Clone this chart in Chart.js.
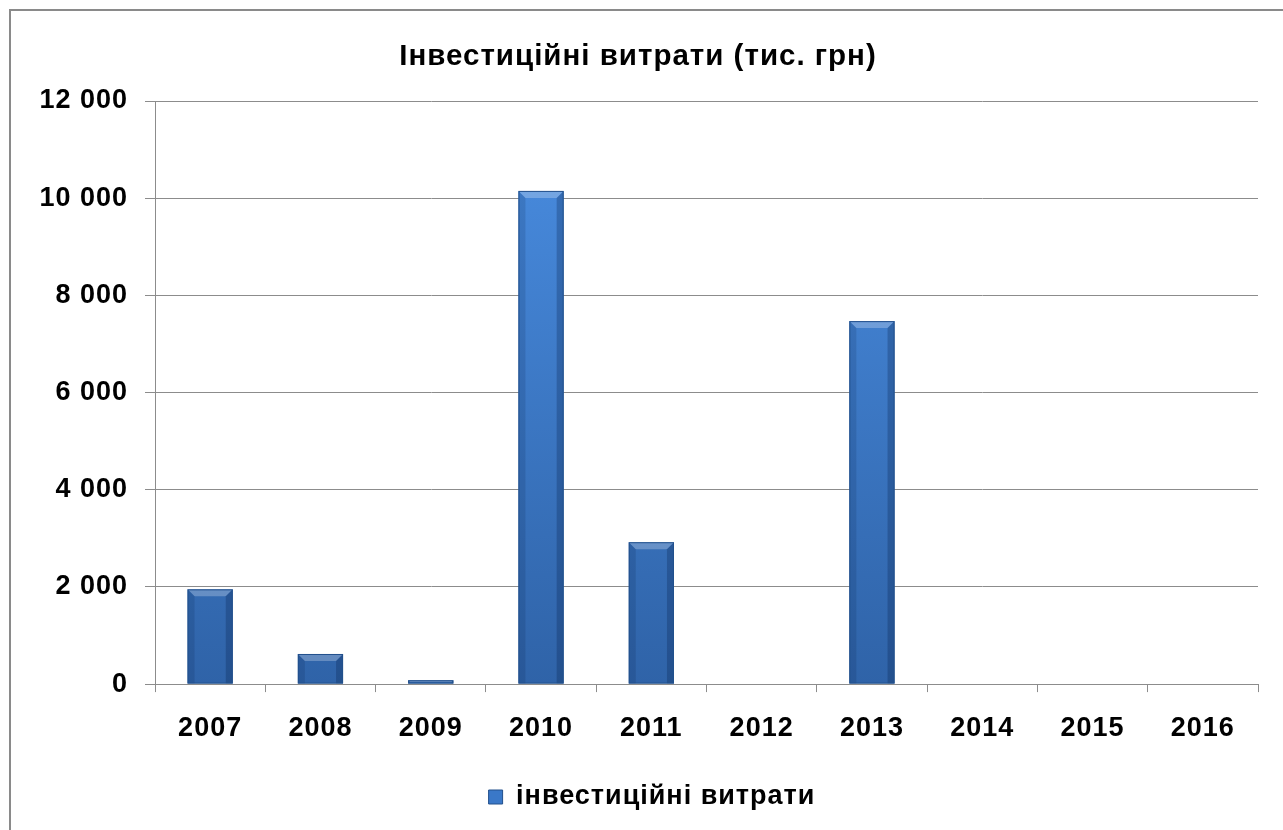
<!DOCTYPE html>
<html>
<head>
<meta charset="utf-8">
<script src="https://cdn.jsdelivr.net/npm/chart.js@4.4.1/dist/chart.umd.min.js"></script>
<style>
    html, body { margin: 0; padding: 0; background: #fff; overflow: hidden; }
    #frame { position: absolute; left: 9px; top: 9px; width: 1400px; height: 1000px; border: 2px solid #8a8a8a; box-sizing: border-box; }
    #wrap  { position: absolute; left: 0; top: 0; width: 1283px; height: 830px; }
</style>
</head>
<body>
<div id="frame"></div>
<div id="wrap"><canvas id="chart"></canvas></div>
<script>
    const years        = ['2007', '2008', '2009', '2010', '2011', '2012', '2013', '2014', '2015', '2016'];
    const investValues = [1950, 620, 80, 10150, 2920, 0, 7470, 0, 0, 0];
    const yTickValues  = [0, 2000, 4000, 6000, 8000, 10000, 12000];
    const seriesName   = 'інвестиційні витрати';
    const chartTitle   = 'Інвестиційні витрати (тис. грн)';

    const FONT = '"Liberation Sans", Arial, sans-serif';

    // 12000 -> "12 000"
    function fmt(v) {
        return String(v).replace(/\B(?=(\d{3})+(?!\d))/g, ' ');
    }

    // bar fill: vertical gradient over the plot area
    function barFill(context) {
        const area = context.chart.chartArea;
        if (!area) return '#3b78c8';
        const g = context.chart.ctx.createLinearGradient(0, area.top, 0, area.bottom);
        g.addColorStop(0, '#4a8ee2');
        g.addColorStop(1, '#2f63a8');
        return g;
    }

    // office text renders a touch wider than the canvas does
    const wideText = {
        id: 'wideText',
        beforeUpdate(chart) { chart.ctx.letterSpacing = '1px'; },
        beforeDraw(chart)   { chart.ctx.letterSpacing = '1px'; }
    };

    // soft bevel on each bar
    const bevel = {
        id: 'bevel',
        afterDatasetsDraw(chart) {
            const ctx = chart.ctx;
            chart.getDatasetMeta(0).data.forEach(bar => {
                const p = bar.getProps(['x', 'y', 'base', 'width'], true);
                const h = p.base - p.y;
                if (h < 1) return;
                const l = p.x - p.width / 2, r = p.x + p.width / 2;
                const b = Math.min(7, h / 2, p.width / 6);
                ctx.save();
                // top highlight
                ctx.fillStyle = 'rgba(255,255,255,0.25)';
                ctx.beginPath();
                ctx.moveTo(l, p.y); ctx.lineTo(r, p.y); ctx.lineTo(r - b, p.y + b); ctx.lineTo(l + b, p.y + b);
                ctx.closePath(); ctx.fill();
                // left side
                ctx.fillStyle = 'rgba(0,20,60,0.14)';
                ctx.beginPath();
                ctx.moveTo(l, p.y); ctx.lineTo(l + b, p.y + b); ctx.lineTo(l + b, p.base); ctx.lineTo(l, p.base);
                ctx.closePath(); ctx.fill();
                // right side
                ctx.fillStyle = 'rgba(0,20,60,0.24)';
                ctx.beginPath();
                ctx.moveTo(r, p.y); ctx.lineTo(r - b, p.y + b); ctx.lineTo(r - b, p.base); ctx.lineTo(r, p.base);
                ctx.closePath(); ctx.fill();
                // outline
                ctx.strokeStyle = '#22508c';
                ctx.lineWidth = 1;
                ctx.strokeRect(l + 0.5, p.y + 0.5, p.width - 1, h - 1);
                ctx.restore();
            });
        }
    };

    // title and legend sit a bit right of the canvas centre
    const boxShift = {
        id: 'boxShift',
        afterLayout(chart) {
            if (chart.titleBlock) {
                chart.titleBlock.left  += 4;
                chart.titleBlock.right += 4;
            }
            if (chart.legend) {
                chart.legend.left  += 18;
                chart.legend.right += 18;
            }
        }
    };

    const ctx = document.getElementById('chart').getContext('2d');

    new Chart(ctx, {
        type: 'bar',
        data: {
            labels: years,
            datasets: [{
                label: seriesName,
                data: investValues,
                backgroundColor: barFill,
                borderWidth: 0,
                categoryPercentage: 1.0,
                barPercentage: 0.41
            }]
        },
        options: {
            responsive: true,
            maintainAspectRatio: false,
            animation: false,
            layout: { padding: { left: 10, right: 25, top: 0, bottom: 9.5 } },
            plugins: {
                title: {
                    display: true,
                    text: chartTitle,
                    color: '#000',
                    font: { family: FONT, size: 29.5, weight: 'bold' },
                    padding: { top: 39.3, bottom: 26.3 }
                },
                legend: {
                    position: 'bottom',
                    labels: {
                        color: '#000',
                        font: { family: FONT, size: 27, weight: 'bold' },
                        boxWidth: 14,
                        boxHeight: 14,
                        padding: 19,
                        generateLabels(chart) {
                            return [{
                                text: seriesName,
                                fillStyle: '#3a78c8',
                                strokeStyle: '#22508c',
                                lineWidth: 1,
                                datasetIndex: 0
                            }];
                        }
                    }
                },
                tooltip: { enabled: false }
            },
            scales: {
                x: {
                    offset: true,
                    grid: { drawOnChartArea: false, color: '#8c8c8c', tickLength: 8, offset: true },
                    border: { color: '#8c8c8c' },
                    ticks: {
                        color: '#000',
                        padding: 20,
                        maxRotation: 0,
                        font: { family: FONT, size: 27, weight: 'bold' }
                    }
                },
                y: {
                    min: 0,
                    max: 12000,
                    afterBuildTicks(scale) {
                        scale.ticks = yTickValues.map(v => ({ value: v }));
                    },
                    afterFit(scale) {
                        scale.width = 145;
                    },
                    grid: { color: '#8c8c8c', tickLength: 10 },
                    border: { color: '#8c8c8c' },
                    ticks: {
                        color: '#000',
                        padding: 17,
                        font: { family: FONT, size: 27, weight: 'bold' },
                        callback: v => fmt(v)
                    }
                }
            }
        },
        plugins: [wideText, bevel, boxShift]
    });
</script>
</body>
</html>
